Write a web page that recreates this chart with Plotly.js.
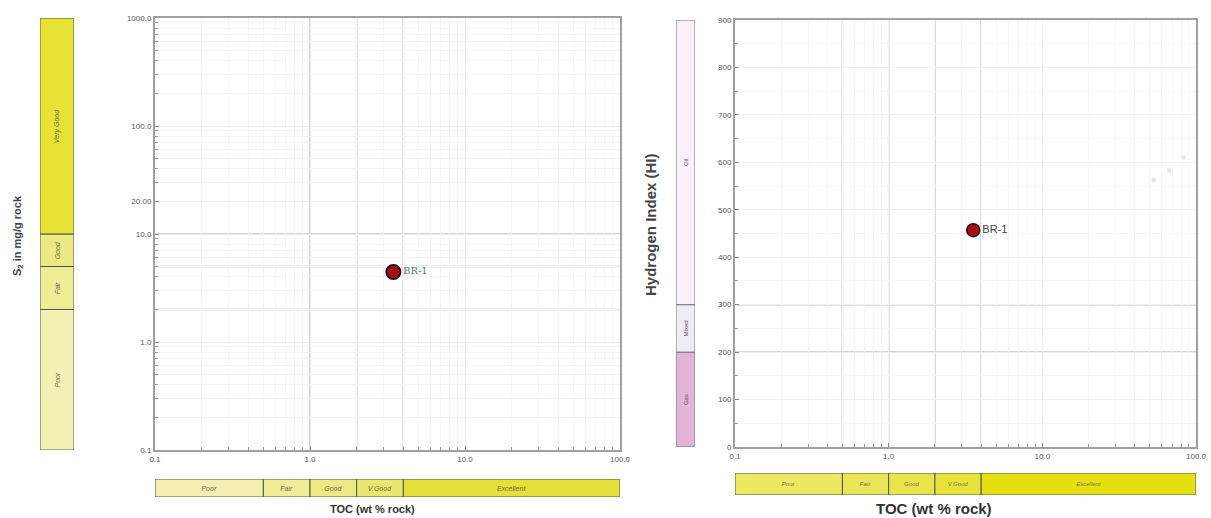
<!DOCTYPE html>
<html>
<head>
<meta charset="utf-8">
<script src="https://cdn.plot.ly/plotly-3.0.1.min.js"></script>
<style>html,body{margin:0;padding:0;background:#fff;}#chart{width:1211px;height:518px;}</style>
</head>
<body>
<div id="chart"></div>
<script>
// ---- data ----
const tocBounds = [0.1, 0.5, 1, 2, 4, 100];
const tocClasses = ['Poor', 'Fair', 'Good', 'V.Good', 'Excellent'];
const s2Bounds = [0.1, 2, 5, 10, 1000];
const s2Classes = ['Poor', 'Fair', 'Good', 'Very Good'];
const hiBounds = [0, 200, 300, 900];
const hiClasses = ['Gas', 'Mixed', 'Oil'];
const wells = ['BR-1'];
const wellTOC = [3.45];
const wellS2 = [4.45];
const wellTOC_HI = [3.55];
const wellHI = [457];
const faintTOC = [53, 67, 83];
const faintHI = [563, 584, 610];
const xTickVals = [0.1, 1, 10, 100];
const xTickText = ['0.1', '1.0', '10.0', '100.0'];
const s2TickVals = [0.1, 1, 10, 20, 100, 1000];
const s2TickText = ['0.1', '1.0', '10.0', '20.00', '100.0', '1000.0'];
const hiTickVals = [0, 100, 200, 300, 400, 500, 600, 700, 800, 900];

// ---- styles ----
const tocColorsL = ['#f4f1b0', '#f0ed98', '#ede984', '#eae66e', '#e6e13a'];
const tocColorsR = ['#ece862', '#ebe655', '#e9e44a', '#e8e23c', '#e5df12'];
const s2Colors = ['#f3f1b4', '#efec96', '#ece982', '#e6e236'];
const hiColors = ['#e3b3d8', '#efedf4', '#f9f0fa'];

const lows = b => b.slice(0, -1);
const sizes = b => b.slice(1).map((v, i) => v - b[i]);

const bandFont = {size: 7, color: '#6a6a4a', family: 'Liberation Sans, Arial', style: 'italic'};

const traces = [
  {type: 'bar', xaxis: 'x2', yaxis: 'y', x: s2Classes.map(() => 0), base: lows(s2Bounds), y: sizes(s2Bounds),
   width: 1, marker: {color: s2Colors, line: {color: '#555', width: 1}}, text: s2Classes,
   textposition: 'inside', insidetextanchor: 'middle', textangle: -90, constraintext: 'none',
   textfont: bandFont, hoverinfo: 'skip'},
  {type: 'bar', orientation: 'h', xaxis: 'x', yaxis: 'y2', y: tocClasses.map(() => 0), base: lows(tocBounds), x: sizes(tocBounds),
   width: 1, marker: {color: tocColorsL, line: {color: '#555', width: 1}}, text: tocClasses,
   textposition: 'inside', insidetextanchor: 'middle', textangle: 0, constraintext: 'none',
   textfont: bandFont, hoverinfo: 'skip'},
  {type: 'scatter', mode: 'markers+text', xaxis: 'x', yaxis: 'y', x: wellTOC, y: wellS2, text: wells,
   textposition: 'middle right', textfont: {size: 10, color: '#4f7a82', family: 'DejaVu Serif, serif'},
   marker: {size: 14, color: '#a50f17', line: {color: '#2b0505', width: 2}}, cliponaxis: false},
  {type: 'bar', xaxis: 'x4', yaxis: 'y4', x: hiClasses.map(() => 0), base: lows(hiBounds), y: sizes(hiBounds),
   width: 1, marker: {color: hiColors, line: {color: '#777', width: 1}}, text: hiClasses,
   textposition: 'inside', insidetextanchor: 'middle', textangle: -90, constraintext: 'none',
   textfont: {size: 6, color: '#6a4a66', family: 'Liberation Sans, Arial'}, hoverinfo: 'skip'},
  {type: 'bar', orientation: 'h', xaxis: 'x3', yaxis: 'y5', y: tocClasses.map(() => 0), base: lows(tocBounds), x: sizes(tocBounds),
   width: 1, marker: {color: tocColorsR, line: {color: '#555', width: 1}}, text: tocClasses,
   textposition: 'inside', insidetextanchor: 'middle', textangle: 0, constraintext: 'none',
   textfont: {size: 6, color: '#777740', family: 'Liberation Sans, Arial', style: 'italic'}, hoverinfo: 'skip'},
  {type: 'scatter', mode: 'markers', xaxis: 'x3', yaxis: 'y4', x: faintTOC, y: faintHI,
   marker: {size: 5, color: '#e8e8e8'}, hoverinfo: 'skip'},
  {type: 'scatter', mode: 'markers+text', xaxis: 'x3', yaxis: 'y4', x: wellTOC_HI, y: wellHI, text: wells,
   textposition: 'middle right', textfont: {size: 11, color: '#444', family: 'Liberation Sans, Arial'},
   marker: {size: 13, color: '#a50f17', line: {color: '#3a0505', width: 1.5}}, cliponaxis: false}
];

const W = 1211, H = 518;
const px = (a, b) => [a / W, b / W];
const py = (top, bot) => [1 - bot / H, 1 - top / H];

const frame = {showline: true, mirror: true, linecolor: '#a0a0a0', linewidth: 2, zeroline: false};
const tickfont = {size: 8, color: '#555', family: 'Liberation Sans, Arial'};
const hidden = {showgrid: false, zeroline: false, showticklabels: false, showline: false, ticks: '', fixedrange: true};
const logMinor = {dtick: 'D1', showgrid: true, gridcolor: '#f5f5f5', ticks: 'inside', ticklen: 3, tickcolor: '#999'};

const layout = {
  width: W, height: H, margin: {l: 0, r: 0, t: 0, b: 0},
  paper_bgcolor: '#fff', plot_bgcolor: '#fff', showlegend: false, barmode: 'overlay',
  font: {family: 'Liberation Sans, Arial', color: '#444'},
  xaxis: Object.assign({}, frame, {type: 'log', range: [-1, 2], domain: px(155, 620), anchor: 'y',
    tickmode: 'array', tickvals: xTickVals, ticktext: xTickText, tickfont: tickfont, ticks: 'inside', ticklen: 4, tickcolor: '#888',
    showgrid: true, gridcolor: '#ededed', minor: logMinor}),
  yaxis: Object.assign({}, frame, {type: 'log', range: [-1, 3], domain: py(18, 450), anchor: 'x',
    tickmode: 'array', tickvals: s2TickVals, ticktext: s2TickText, tickfont: tickfont, ticks: 'inside', ticklen: 4, tickcolor: '#888',
    showgrid: true, gridcolor: '#ededed', minor: logMinor}),
  xaxis2: Object.assign({}, hidden, {domain: px(40, 74), range: [-0.5, 0.5], anchor: 'y'}),
  yaxis2: Object.assign({}, hidden, {domain: py(479, 497), range: [-0.5, 0.5], anchor: 'x'}),
  xaxis3: Object.assign({}, frame, {type: 'log', range: [-1, 2], domain: px(735, 1196), anchor: 'y4',
    tickmode: 'array', tickvals: xTickVals, ticktext: xTickText, tickfont: tickfont, ticks: 'inside', ticklen: 4, tickcolor: '#888',
    showgrid: true, gridcolor: '#f0f0f0', minor: logMinor}),
  yaxis4: Object.assign({}, frame, {range: [0, 900], domain: py(20, 447), anchor: 'x3',
    tickmode: 'array', tickvals: hiTickVals, tickfont: tickfont, ticks: 'inside', ticklen: 4, tickcolor: '#888',
    showgrid: true, gridcolor: '#f1f1f1',
    minor: {dtick: 50, showgrid: true, gridcolor: '#f7f7f7', ticks: 'inside', ticklen: 3, tickcolor: '#999'}}),
  xaxis4: Object.assign({}, hidden, {domain: px(676, 695), range: [-0.5, 0.5], anchor: 'y4'}),
  yaxis5: Object.assign({}, hidden, {domain: py(473, 495), range: [-0.5, 0.5], anchor: 'x3'}),
  shapes: [],
  annotations: [
    {xref: 'paper', yref: 'paper', x: 18 / W, y: 1 - 236 / H, xanchor: 'center', yanchor: 'middle',
     text: '<b>S<sub>2</sub> in mg/g rock</b>', textangle: -90, showarrow: false, font: {size: 11, color: '#444'}},
    {xref: 'paper', yref: 'paper', x: 372 / W, y: 1 - 509 / H, xanchor: 'center', yanchor: 'middle',
     text: '<b>TOC (wt % rock)</b>', showarrow: false, font: {size: 11, color: '#333'}},
    {xref: 'paper', yref: 'paper', x: 650 / W, y: 1 - 225 / H, xanchor: 'center', yanchor: 'middle',
     text: '<b>Hydrogen Index (HI)</b>', textangle: -90, showarrow: false, font: {size: 15, color: '#444'}},
    {xref: 'paper', yref: 'paper', x: 934 / W, y: 1 - 508 / H, xanchor: 'center', yanchor: 'middle',
     text: '<b>TOC (wt % rock)</b>', showarrow: false, font: {size: 15, color: '#333'}}
  ]
};

const lineStyle = {color: '#c6c6c6', width: 1.5};
tocBounds.slice(2, -1).forEach(v => layout.shapes.push({type: 'line', xref: 'x', yref: 'y domain', x0: v, x1: v, y0: 0, y1: 1, line: lineStyle, layer: 'below'}));
s2Bounds.slice(1, -1).forEach(v => layout.shapes.push({type: 'line', xref: 'x domain', yref: 'y', x0: 0, x1: 1, y0: v, y1: v, line: lineStyle, layer: 'below'}));
tocBounds.slice(1, -1).forEach(v => layout.shapes.push({type: 'line', xref: 'x3', yref: 'y4 domain', x0: v, x1: v, y0: 0, y1: 1, line: lineStyle, layer: 'below'}));
hiBounds.slice(1, -1).forEach(v => layout.shapes.push({type: 'line', xref: 'x3 domain', yref: 'y4', x0: 0, x1: 1, y0: v, y1: v, line: lineStyle, layer: 'below'}));

Plotly.newPlot('chart', traces, layout, {staticPlot: true, displayModeBar: false});
</script>
</body>
</html>
